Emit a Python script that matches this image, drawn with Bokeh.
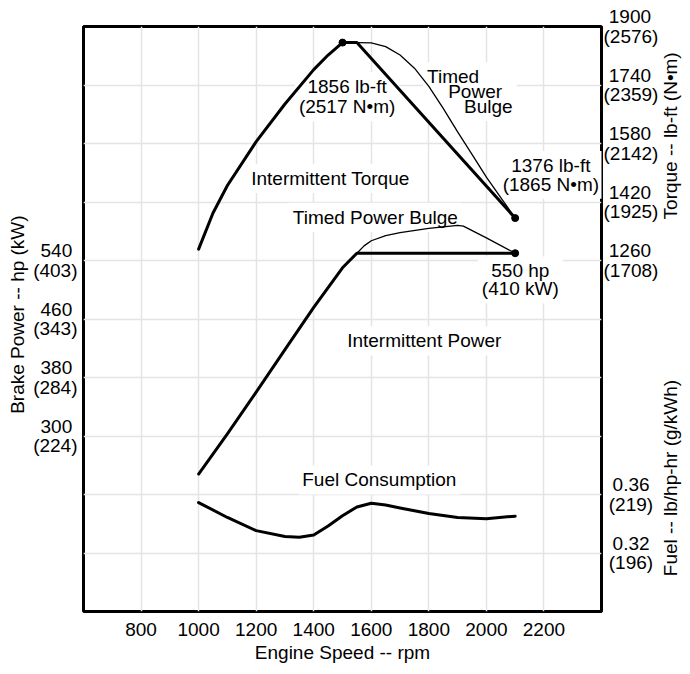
import math
from bokeh.plotting import figure
from bokeh.layouts import row
from bokeh.models import Range1d, LinearAxis, FixedTicker, Label
from bokeh.embed import file_html
from bokeh.resources import INLINE

# ---------------- data ----------------
rpm_ticks = [800, 1000, 1200, 1400, 1600, 1800, 2000, 2200]

power_ticks = [300, 380, 460, 540]
power_tick_labels = ["300\u2008\n(224)", "380\u2008\n(284)", "460\u2008\n(343)", "540\u2008\n(403)"]

torque_ticks = [1260, 1420, 1580, 1740, 1900]
torque_tick_labels = ["\u20081260\n(1708)", "\u20081420\n(1925)", "\u20081580\n(2142)",
                      "\u20081740\n(2359)", "\u20081900\n(2576)"]

fuel_ticks = [0.32, 0.36]
fuel_tick_labels = ["\u2008\u20090.32\n\u2008(196)", "\u2008\u20090.36\n\u2008(219)"]

# intermittent torque (lb-ft)
torque_rpm = [1000, 1050, 1100, 1200, 1300, 1400, 1450, 1500, 1550, 2100]
torque_lbft = [1291, 1390, 1465, 1585, 1688, 1782, 1822, 1856, 1856, 1376]

# timed power bulge torque (lb-ft)
bulge_torque_rpm = [1550, 1600, 1650, 1700, 1750, 1800, 1850, 1900, 1950, 2000, 2050, 2100]
bulge_torque_lbft = [1856, 1855, 1845, 1822, 1786, 1736, 1676, 1612, 1550, 1488, 1432, 1376]

# intermittent power (hp)
power_rpm = [1000, 1100, 1200, 1300, 1400, 1500, 1550, 2100]
power_hp = [248, 303, 360, 418, 476, 530, 550, 550]

# timed power bulge (hp)
bulge_power_rpm = [1550, 1575, 1600, 1650, 1700, 1800, 1900, 1920, 2000, 2100]
bulge_power_hp = [550, 560, 567, 574, 578, 584, 588, 587, 571, 550]

# fuel consumption (lb/hp-hr)
fuel_rpm = [1000, 1100, 1200, 1300, 1350, 1400, 1450, 1500, 1550, 1600, 1650, 1700, 1800, 1900, 2000, 2100]
fuel_lb = [0.3545, 0.3443, 0.3353, 0.3313, 0.3308, 0.3323, 0.3385, 0.3455, 0.3515, 0.3540,
           0.3528, 0.3508, 0.3470, 0.3443, 0.3435, 0.3452]

# marked points
torque_mark_rpm = [1500, 2100]
torque_mark_lbft = [1856, 1376]
power_mark_rpm = [2100]
power_mark_hp = [550]

# ---------------- styling ----------------
FONT = "Liberation Sans"
FS = "19px"
H = 666

x_lo, x_hi = 600, 2400
p_lo, p_hi = 60, 860
t_lo, t_hi = 300, 1900
f_lo, f_hi = 0.28, 0.68

# ---------------- main chart ----------------
p = figure(width=631, height=H, output_backend="svg", toolbar_location=None,
           x_range=Range1d(x_lo, x_hi), y_range=Range1d(p_lo, p_hi),
           min_border_left=51, min_border_right=57, min_border_top=26, min_border_bottom=55,
           background_fill_color="white", border_fill_color="white")
p.extra_y_ranges = {"torque": Range1d(t_lo, t_hi), "fuel": Range1d(f_lo, f_hi)}

p.outline_line_color = "black"
p.outline_line_width = 3

p.xgrid[0].ticker = FixedTicker(ticks=rpm_ticks)
p.ygrid[0].ticker = FixedTicker(ticks=[p_lo + 80 * k for k in range(1, 10)])
for g in (p.xgrid[0], p.ygrid[0]):
    g.grid_line_color = "#e4e4e4"
    g.grid_line_width = 1.5

def style_axis(ax):
    ax.axis_line_color = None
    ax.major_tick_line_color = None
    ax.minor_tick_line_color = None
    ax.major_tick_out = 0
    ax.major_tick_in = 0
    ax.minor_tick_out = 0
    ax.minor_tick_in = 0
    ax.major_label_text_font = FONT
    ax.major_label_text_font_size = FS
    ax.major_label_text_color = "black"
    ax.major_label_text_line_height = 0.94

xa = p.xaxis[0]
xa.ticker = FixedTicker(ticks=rpm_ticks)
style_axis(xa)
xa.major_label_standoff = 11
xa.axis_label = "Engine Speed -- rpm"
xa.axis_label_standoff = 3
xa.axis_label_text_font = FONT
xa.axis_label_text_font_size = FS
xa.axis_label_text_font_style = "normal"
xa.axis_label_text_color = "black"

ya = p.yaxis[0]
ya.ticker = FixedTicker(ticks=power_ticks)
ya.major_label_overrides = dict(zip(power_ticks, power_tick_labels))
style_axis(ya)
ya.major_label_standoff = 6

fuel_as_torque = [round(t_lo + (f - f_lo) / (f_hi - f_lo) * (t_hi - t_lo)) for f in fuel_ticks]
right_ticks = fuel_as_torque + torque_ticks
right_labels = dict(zip(right_ticks, fuel_tick_labels + torque_tick_labels))
ra = LinearAxis(y_range_name="torque", ticker=FixedTicker(ticks=right_ticks),
                major_label_overrides=right_labels)
style_axis(ra)
ra.major_label_standoff = 2
p.add_layout(ra, "right")

# curves
p.line(torque_rpm, torque_lbft, y_range_name="torque", line_width=3, line_color="black",
       line_join="round", line_cap="round")
p.line(bulge_torque_rpm, bulge_torque_lbft, y_range_name="torque", line_width=1.3,
       line_color="black", line_join="round")
p.line(power_rpm, power_hp, line_width=3, line_color="black", line_join="round", line_cap="round")
p.line(bulge_power_rpm, bulge_power_hp, line_width=1.3, line_color="black", line_join="round")
p.line(fuel_rpm, fuel_lb, y_range_name="fuel", line_width=3, line_color="black",
       line_join="round", line_cap="round")
p.scatter(torque_mark_rpm, torque_mark_lbft, y_range_name="torque", size=7, color="black")
p.scatter(power_mark_rpm, power_mark_hp, size=7, color="black")

def note(text, x, y, align="center", lh=1.2):
    lab = Label(x=x, y=y, text=text, text_font=FONT, text_font_size=FS,
                text_color="black", text_align=align, text_baseline="middle",
                text_line_height=lh, background_fill_color="white", padding=4,
                level="underlay")
    p.add_layout(lab)

NB = "\u00a0"
note("1856 lb-ft\n(2517 N\u2022m)", 1516, 764, lh=0.96)
note("Timed\n" + NB * 4 + "Power\n" + NB * 7 + "Bulge", 1780, 771, align="left", lh=0.71)
note("Intermittent Torque", 1458, 652)
note("Timed Power Bulge", 1614, 599)
note("1376 lb-ft\n(1865 N\u2022m)", 2224, 657, lh=0.89)
note("550 hp\n(410 kW)", 2118, 513.5, lh=0.855)
note("Intermittent Power", 1784, 430)
note("Fuel Consumption", 1628, 240)

# ---------------- side strips holding the vertical axis titles ----------------
def strip(width, titles):
    s = figure(width=width, height=H, output_backend="svg", toolbar_location=None,
               x_range=Range1d(0, width), y_range=Range1d(H, 0),
               x_axis_location=None, y_axis_location=None, min_border=0,
               background_fill_color="white", border_fill_color="white",
               outline_line_color=None)
    s.grid.visible = False
    for text, cx, cy in titles:
        s.add_layout(Label(x=cx, y=cy, text=text, angle=math.pi / 2, text_font=FONT,
                           text_font_size=FS, text_color="black", text_align="center",
                           text_baseline="middle"))
    return s

left_strip = strip(30, [("Brake Power -- hp (kW)", 17, 328)])
right_strip = strip(21, [("Torque -- lb-ft (N\u2022m)", 9, 124.5),
                         ("Fuel -- lb/hp-hr (g/kWh)", 9, 514)])

layout = row(left_strip, p, right_strip)
open("out.html", "w").write(file_html(layout, INLINE))
